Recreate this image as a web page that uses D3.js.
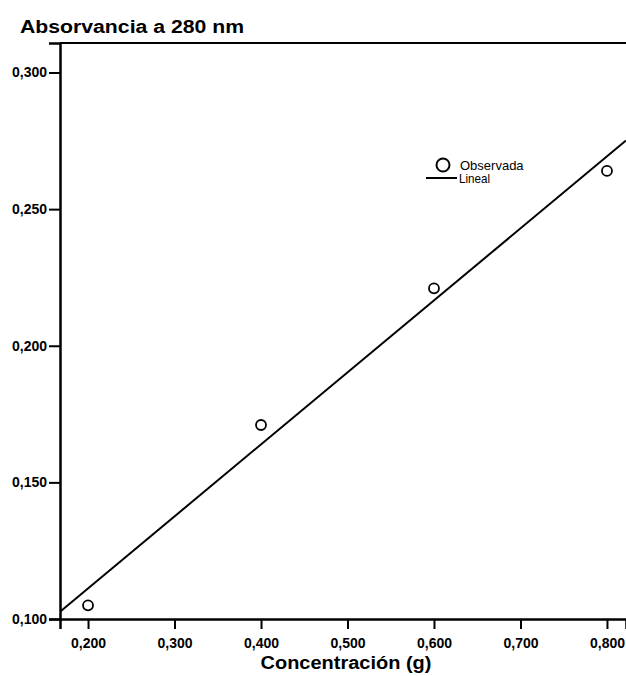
<!DOCTYPE html>
<html>
<head>
<meta charset="utf-8">
<script src="https://cdn.jsdelivr.net/npm/d3@7"></script>
<style>
  body { margin: 0; background: #fff; }
  text { font-family: "Liberation Sans", Arial, sans-serif; fill: #000; }
</style>
</head>
<body>
<div id="chart"></div>
<script>
// data
var concentracion = [0.200, 0.400, 0.600, 0.800];
var absorvancia = [0.105, 0.171, 0.221, 0.264];
var xTicks = [0.2, 0.3, 0.4, 0.5, 0.6, 0.7, 0.8];
var yTicks = [0.10, 0.15, 0.20, 0.25, 0.30];
var legendLabels = ["Observada", "Lineal"];

var width = 626, height = 676;
var mLeft = 60, mRight = 626, mTop = 43, mBottom = 619;

var svg = d3.select("#chart").append("svg")
    .attr("width", width).attr("height", height);

var x = d3.scaleLinear().domain([0.1676, 0.822]).range([mLeft, mRight]);
var y = d3.scaleLinear().domain([0.100, 0.3108]).range([mBottom, mTop]);

var es = d3.formatLocale({decimal: ",", thousands: ".", grouping: [3], currency: ["", "€"]});
var fmt = es.format(".3f");

// least squares line through the observed points
var mx = d3.mean(concentracion), my = d3.mean(absorvancia);
var sxy = d3.sum(concentracion, function (d, i) { return (d - mx) * (absorvancia[i] - my); });
var sxx = d3.sum(concentracion, function (d) { return (d - mx) * (d - mx); });
var slope = sxy / sxx, intercept = my - slope * mx;

// title
svg.append("text").attr("x", 20).attr("y", 33)
    .attr("textLength", 224).attr("lengthAdjust", "spacingAndGlyphs")
    .style("font-size", "18px").style("font-weight", "bold")
    .text("Absorvancia a 280 nm");

// top frame line
svg.append("line").attr("x1", mLeft).attr("x2", mRight).attr("y1", mTop).attr("y2", mTop)
    .attr("stroke", "#000").attr("stroke-width", 2);

var xAxis = svg.append("g").attr("transform", "translate(0," + mBottom + ")")
    .call(d3.axisBottom(x).tickValues(xTicks).tickFormat(fmt).tickSizeOuter(0).tickSize(10).tickPadding(9));
var yAxis = svg.append("g").attr("transform", "translate(" + mLeft + ",0)")
    .call(d3.axisLeft(y).tickValues(yTicks).tickFormat(fmt).tickSizeOuter(0).tickSize(11).tickPadding(2));

[xAxis, yAxis].forEach(function (a) {
    a.select(".domain").attr("stroke", "#000").attr("stroke-width", 2.5);
    a.selectAll(".tick line").attr("stroke", "#000").attr("stroke-width", 2);
    a.selectAll(".tick text").attr("fill", "#000")
        .style("font-size", "14px").style("font-weight", "bold")
        .style("font-family", "'Liberation Sans', Arial, sans-serif");
});

// axis title
svg.append("text").attr("x", (mLeft + mRight) / 2 + 3).attr("y", 669)
    .attr("text-anchor", "middle")
    .attr("textLength", 171).attr("lengthAdjust", "spacingAndGlyphs")
    .style("font-size", "18px").style("font-weight", "bold")
    .text("Concentración (g)");

// fitted line, clipped to plot area
svg.append("clipPath").attr("id", "plotclip").append("rect")
    .attr("x", mLeft).attr("y", mTop).attr("width", mRight - mLeft).attr("height", mBottom - mTop);

var xd = x.domain();
svg.append("line").attr("clip-path", "url(#plotclip)")
    .attr("x1", x(xd[0])).attr("y1", y(intercept + slope * xd[0]))
    .attr("x2", x(xd[1])).attr("y2", y(intercept + slope * xd[1]))
    .attr("stroke", "#000").attr("stroke-width", 2);

// observed points
svg.selectAll("circle.obs").data(concentracion).enter().append("circle")
    .attr("class", "obs")
    .attr("cx", function (d) { return x(d); })
    .attr("cy", function (d, i) { return y(absorvancia[i]); })
    .attr("r", 5)
    .attr("fill", "#fff").attr("stroke", "#000").attr("stroke-width", 1.8);

// legend
var lg = svg.append("g").attr("transform", "translate(426,165)");
lg.append("circle").attr("cx", 17).attr("cy", 0).attr("r", 6.5)
    .attr("fill", "#fff").attr("stroke", "#000").attr("stroke-width", 2);
lg.append("text").attr("x", 34).attr("y", 4.5)
    .style("font-size", "13px").text(legendLabels[0]);
lg.append("line").attr("x1", 0).attr("x2", 31).attr("y1", 13).attr("y2", 13)
    .attr("stroke", "#000").attr("stroke-width", 2);
lg.append("text").attr("x", 33).attr("y", 18)
    .attr("textLength", 31).attr("lengthAdjust", "spacingAndGlyphs")
    .style("font-size", "13px").text(legendLabels[1]);
</script>
</body>
</html>
